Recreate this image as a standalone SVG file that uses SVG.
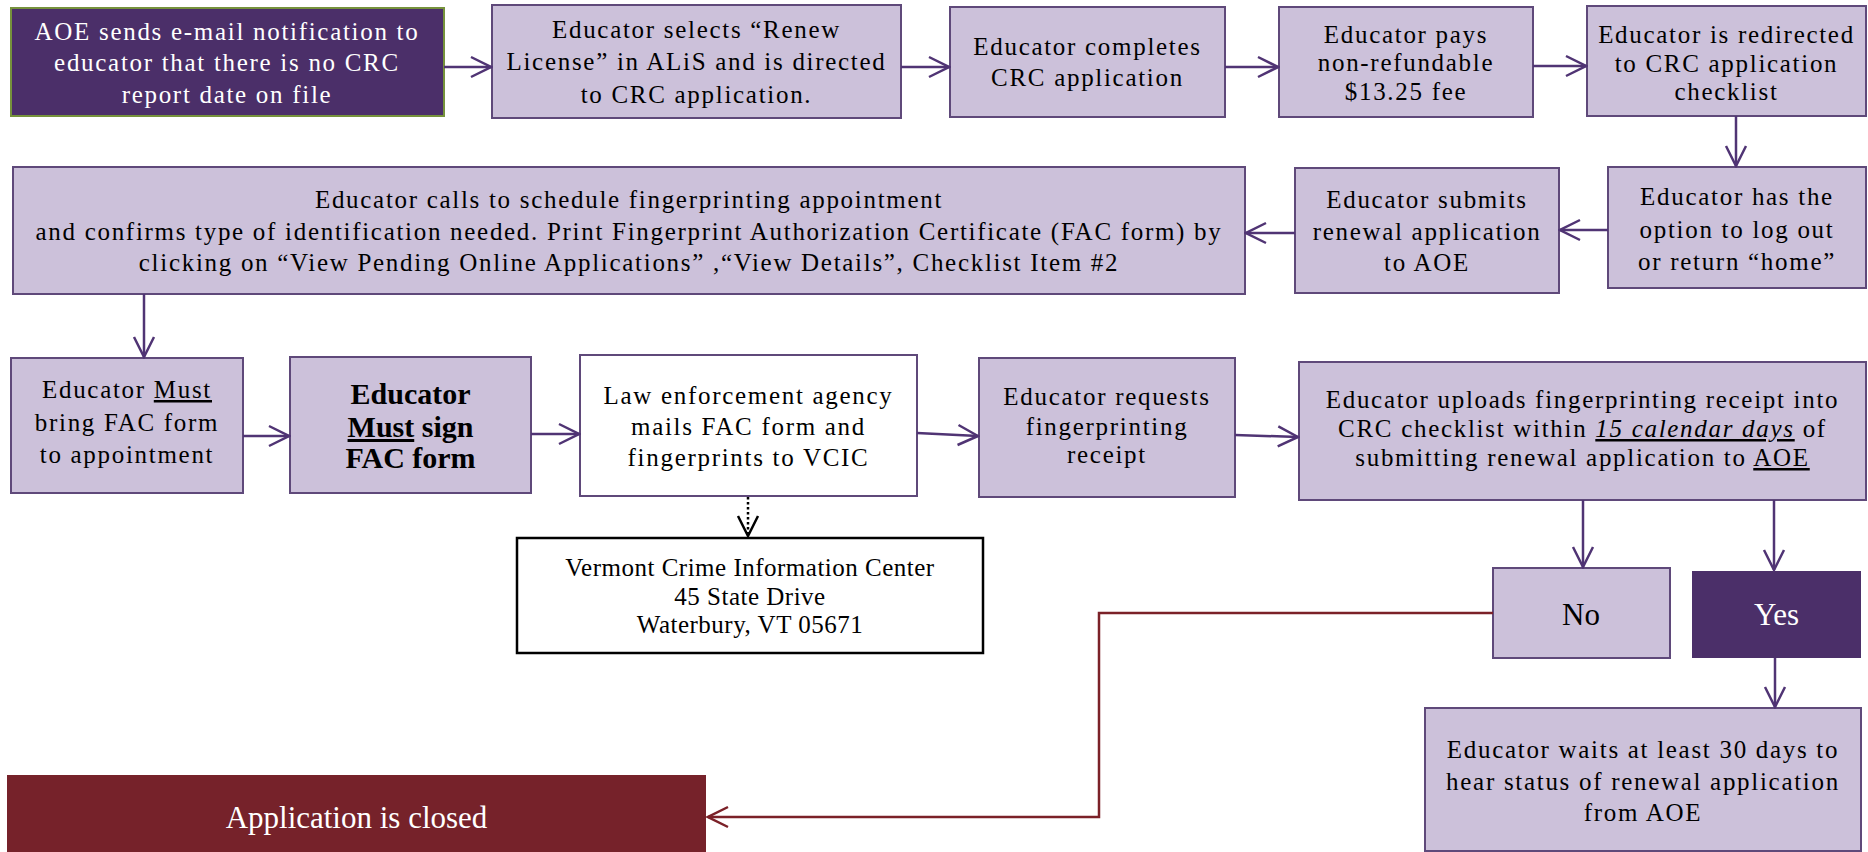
<svg xmlns="http://www.w3.org/2000/svg" width="1868" height="852" viewBox="0 0 1868 852">
<style>
.lp{fill:#CCC1DA;stroke:#5F497A;stroke-width:2}
.wb{fill:#FFFFFF;stroke:#5F497A;stroke-width:2}
.t{font-family:"Liberation Serif","Times New Roman",serif;font-size:30px;fill:#000;text-anchor:middle}
.w{fill:#FFFFFF}
.b{font-weight:bold;font-size:30px}
.s{font-size:25px}
.k{letter-spacing:1.7px}
.v{letter-spacing:0.5px}
.l{font-size:31px}
.c{fill:none;stroke:#503474;stroke-width:2.5}
.u{text-decoration:underline}
</style>
<defs>
<marker id="ap" markerUnits="userSpaceOnUse" markerWidth="24" markerHeight="24" refX="20" refY="10" orient="auto" viewBox="-2 -2 24 24">
<path d="M0,0 L20,10 L0,20" fill="none" stroke="#503474" stroke-width="2.5"/>
</marker>
<marker id="ak" markerUnits="userSpaceOnUse" markerWidth="24" markerHeight="24" refX="20" refY="10" orient="auto" viewBox="-2 -2 24 24">
<path d="M0,0 L20,10 L0,20" fill="none" stroke="#000" stroke-width="2.5"/>
</marker>
<marker id="ar" markerUnits="userSpaceOnUse" markerWidth="24" markerHeight="24" refX="20" refY="10" orient="auto" viewBox="-2 -2 24 24">
<path d="M0,0 L20,10 L0,20" fill="none" stroke="#7B2128" stroke-width="2.5"/>
</marker>
</defs>
<rect width="1868" height="852" fill="#FFFFFF"/>

<g id="n1">
<rect x="11" y="8" width="433" height="108" fill="#4B2F69" stroke="#76923C" stroke-width="2"/>
<text class="t w s k" x="227" y="40">AOE sends e-mail notification to</text>
<text class="t w s k" x="227" y="71">educator that there is no CRC</text>
<text class="t w s k" x="227" y="103">report date on file</text>
</g>
<g id="n2">
<rect class="lp" x="492" y="5" width="409" height="113"/>
<text class="t s k" x="696.5" y="38">Educator selects “Renew</text>
<text class="t s k" x="696.5" y="70">License” in ALiS and is directed</text>
<text class="t s k" x="696.5" y="103">to CRC application.</text>
</g>
<g id="n3">
<rect class="lp" x="950" y="7" width="275" height="110"/>
<text class="t s k" x="1087.5" y="55">Educator completes</text>
<text class="t s k" x="1087.5" y="86">CRC application</text>
</g>
<g id="n4">
<rect class="lp" x="1279" y="7" width="254" height="110"/>
<text class="t s k" x="1406" y="43">Educator pays</text>
<text class="t s k" x="1406" y="71">non-refundable</text>
<text class="t s k" x="1406" y="100">$13.25 fee</text>
</g>
<g id="n5">
<rect class="lp" x="1587" y="6" width="279" height="110"/>
<text class="t s k" x="1726.5" y="43">Educator is redirected</text>
<text class="t s k" x="1726.5" y="72">to CRC application</text>
<text class="t s k" x="1726.5" y="100">checklist</text>
</g>
<g id="n6">
<rect class="lp" x="1608" y="167" width="258" height="121"/>
<text class="t s k" x="1737" y="205">Educator has the</text>
<text class="t s k" x="1737" y="238">option to log out</text>
<text class="t s k" x="1737" y="270">or return “home”</text>
</g>
<g id="n7">
<rect class="lp" x="1295" y="168" width="264" height="125"/>
<text class="t s k" x="1427" y="208">Educator submits</text>
<text class="t s k" x="1427" y="240">renewal application</text>
<text class="t s k" x="1427" y="271">to AOE</text>
</g>
<g id="n8">
<rect class="lp" x="13" y="167" width="1232" height="127"/>
<text class="t s k" x="629" y="208">Educator calls to schedule fingerprinting appointment</text>
<text class="t s k" x="629" y="240">and confirms type of identification needed. Print Fingerprint Authorization Certificate (FAC form) by</text>
<text class="t s k" x="629" y="271">clicking on “View Pending Online Applications” ,“View Details”, Checklist Item #2</text>
</g>
<g id="n9">
<rect class="lp" x="11" y="358" width="232" height="135"/>
<text class="t s k" x="127" y="398">Educator <tspan class="u">Must</tspan></text>
<text class="t s k" x="127" y="431">bring FAC form</text>
<text class="t s k" x="127" y="463">to appointment</text>
</g>
<g id="n10">
<rect class="lp" x="290" y="357" width="241" height="136"/>
<text class="t b" x="410.5" y="404">Educator</text>
<text class="t b" x="410.5" y="437"><tspan class="u">Must</tspan> sign</text>
<text class="t b" x="410.5" y="468">FAC form</text>
</g>
<g id="n11">
<rect class="wb" x="580" y="355" width="337" height="141"/>
<text class="t s k" x="748.5" y="404">Law enforcement agency</text>
<text class="t s k" x="748.5" y="435">mails FAC form and</text>
<text class="t s k" x="748.5" y="466">fingerprints to VCIC</text>
</g>
<g id="n12">
<rect x="517" y="538" width="466" height="115" fill="#FFFFFF" stroke="#000" stroke-width="2.5"/>
<text class="t s v" x="750" y="576">Vermont Crime Information Center</text>
<text class="t s v" x="750" y="605">45 State Drive</text>
<text class="t s v" x="750" y="633">Waterbury, VT 05671</text>
</g>
<g id="n13">
<rect class="lp" x="979" y="358" width="256" height="139"/>
<text class="t s k" x="1107" y="405">Educator requests</text>
<text class="t s k" x="1107" y="435">fingerprinting</text>
<text class="t s k" x="1107" y="463">receipt</text>
</g>
<g id="n14">
<rect class="lp" x="1299" y="362" width="567" height="138"/>
<text class="t s k" x="1582.5" y="408">Educator uploads fingerprinting receipt into</text>
<text class="t s k" x="1582.5" y="437">CRC checklist within <tspan class="u" font-style="italic">15 calendar days</tspan> of</text>
<text class="t s k" x="1582.5" y="466">submitting renewal application to <tspan class="u">AOE</tspan></text>
</g>
<g id="n15">
<rect class="lp" x="1493" y="568" width="177" height="90"/>
<text class="t l" x="1581" y="625">No</text>
</g>
<g id="n16">
<rect x="1692" y="571" width="169" height="87" fill="#4B2F69"/>
<text class="t w l" x="1776.5" y="625">Yes</text>
</g>
<g id="n17">
<rect class="lp" x="1425" y="708" width="436" height="143"/>
<text class="t s k" x="1643" y="758">Educator waits at least 30 days to</text>
<text class="t s k" x="1643" y="790">hear status of renewal application</text>
<text class="t s k" x="1643" y="821">from AOE</text>
</g>
<g id="n18">
<rect x="7" y="775" width="699" height="80" fill="#76222A"/>
<text class="t w l" x="356.5" y="828">Application is closed</text>
</g>

<g id="connectors">
<path class="c" d="M444,67 H491" marker-end="url(#ap)"/>
<path class="c" d="M901,67 H949" marker-end="url(#ap)"/>
<path class="c" d="M1225,67 H1278" marker-end="url(#ap)"/>
<path class="c" d="M1533,66 H1586" marker-end="url(#ap)"/>
<path class="c" d="M1736,116 V166" marker-end="url(#ap)"/>
<path class="c" d="M1608,230 H1560" marker-end="url(#ap)"/>
<path class="c" d="M1295,233 H1246" marker-end="url(#ap)"/>
<path class="c" d="M144,294 V357" marker-end="url(#ap)"/>
<path class="c" d="M243,436 H289" marker-end="url(#ap)"/>
<path class="c" d="M531,434 H579" marker-end="url(#ap)"/>
<path class="c" d="M917,433 L978,436" marker-end="url(#ap)"/>
<path class="c" d="M1235,435 L1298,437" marker-end="url(#ap)"/>
<path class="c" d="M1583,500 V567" marker-end="url(#ap)"/>
<path class="c" d="M1774,500 V570" marker-end="url(#ap)"/>
<path class="c" d="M1775,658 V707" marker-end="url(#ap)"/>
<path d="M748,497 V536" fill="none" stroke="#000" stroke-width="2.5" stroke-dasharray="2.5 2.5" marker-end="url(#ak)"/>
<path d="M1493,613 H1099 V817 H708" fill="none" stroke="#7B2128" stroke-width="2.5" marker-end="url(#ar)"/>
</g>
</svg>
